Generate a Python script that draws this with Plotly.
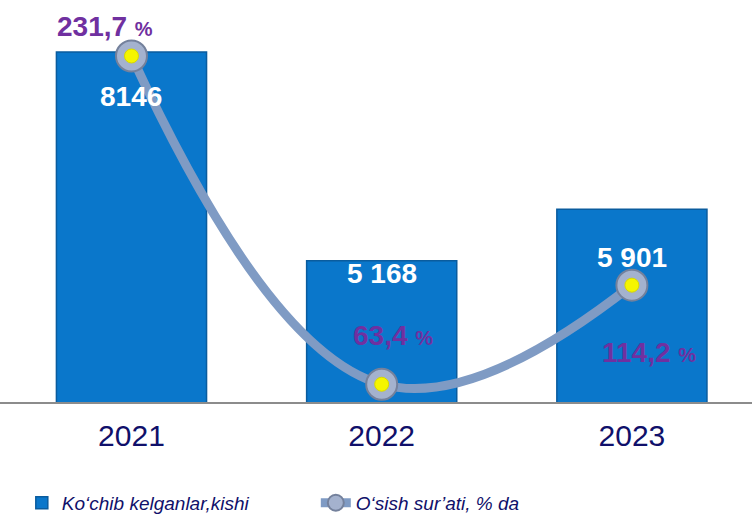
import plotly.graph_objects as go

years = ["2021", "2022", "2023"]
arrived = [8146, 5168, 5901]
arrived_labels = ["8146", "5 168", "5 901"]
growth = [231.7, 63.4, 114.2]
growth_labels = ["231,7", "63,4", "114,2"]

bar_name = "Ko‘chib kelganlar,kishi"
line_name = "O‘sish sur’ati, % da"

FONT = "Liberation Sans, Arial, sans-serif"
BLUE = "#0A77CB"
PURPLE = "#7030A0"
NAVY = "#10106A"

fig = go.Figure()

fig.add_trace(go.Bar(
    x=years, y=arrived, name=bar_name, width=0.6,
    marker=dict(color=BLUE, line=dict(color="#0A5C9E", width=1.5)),
))

fig.add_trace(go.Scatter(
    x=years, y=growth, name=line_name, yaxis="y2",
    mode="lines+markers", line=dict(color="#7F9BC4", width=9, shape="spline", smoothing=1.2),
    marker=dict(size=31, color="#A4B2CE", line=dict(color="#74819C", width=2)),
))
fig.add_trace(go.Scatter(
    x=years, y=growth, yaxis="y2", mode="markers", showlegend=False, hoverinfo="skip",
    marker=dict(size=14, color="#F5F500", line=dict(color="#D8D800", width=1)),
))

# value labels on bars
bar_shift = [-44, -13, -48]
for i, (v, lab, sh) in enumerate(zip(arrived, arrived_labels, bar_shift)):
    fig.add_annotation(x=i, y=v, text=f"<b>{lab}</b>", showarrow=False,
                       yshift=sh, font=dict(family=FONT, size=28, color="white"))

# growth labels
g_shift = [(-26, 29), (11, 49), (17, -67)]
for i, (v, lab, (xs, ys)) in enumerate(zip(growth, growth_labels, g_shift)):
    fig.add_annotation(x=i, y=v, yref="y2", showarrow=False, xshift=xs, yshift=ys,
                       text=f"<b>{lab} <span style='font-size:20px'>%</span></b>",
                       font=dict(family=FONT, size=28, color=PURPLE))

fig.update_layout(
    width=752, height=515,
    margin=dict(l=0, r=0, t=0, b=113, autoexpand=False),
    plot_bgcolor="white", paper_bgcolor="white",
    showlegend=True,
    legend=dict(orientation="h", x=0.029, xanchor="left", y=-0.251, yanchor="middle",
                font=dict(family=FONT, size=19, color=NAVY, style="italic"),
                entrywidth=249, entrywidthmode="pixels", bgcolor="rgba(0,0,0,0)"),
    xaxis=dict(type="category", range=[-0.5255, 2.48], automargin=False,
               showline=True, linecolor="#8C8C8C", linewidth=2,
               showgrid=False, ticks="", ticklabelstandoff=6,
               tickfont=dict(family=FONT, size=30, color=NAVY)),
    yaxis=dict(range=[3150, 8890], visible=False, showgrid=False, automargin=False),
    yaxis2=dict(range=[54.3, 260.4], overlaying="y", visible=False, showgrid=False,
                automargin=False),
)

fig.write_html("out.html", config={"displayModeBar": False},
               post_script="document.body.style.margin='0';")
